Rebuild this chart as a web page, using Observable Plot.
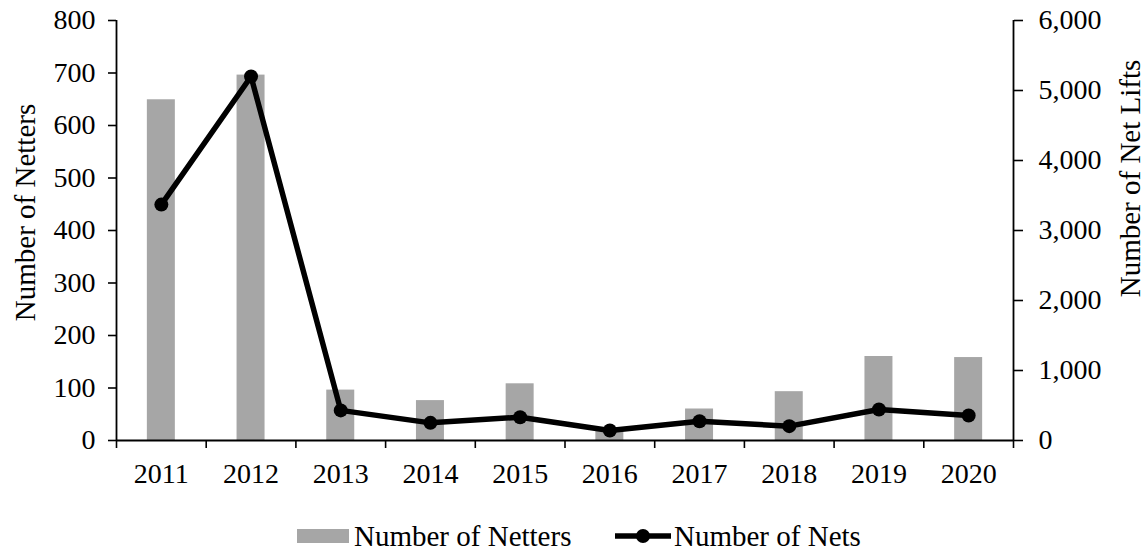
<!DOCTYPE html>
<html><head><meta charset="utf-8">
<script src="https://cdn.jsdelivr.net/npm/d3@7"></script>
<script src="https://cdn.jsdelivr.net/npm/@observablehq/plot@0.6"></script>
<style>
body{margin:0;background:#fff;font-family:"Liberation Serif","Times New Roman",serif;position:relative;width:1146px;height:552px;overflow:hidden;}
#chart{position:absolute;left:0;top:0;}
.leg{position:absolute;font-size:29px;line-height:29px;white-space:nowrap;color:#000;}
</style></head><body>
<div id="chart"></div>
<svg id="legsw" style="position:absolute;left:0;top:500px" width="1146" height="52"></svg>
<div class="leg" style="left:354px;top:522px">Number of Netters</div>
<div class="leg" style="left:674px;top:522px">Number of Nets</div>
<script>
const years = [2011, 2012, 2013, 2014, 2015, 2016, 2017, 2018, 2019, 2020];
const netters = [649, 696, 96, 76, 108, 20, 60, 93, 160, 158];
const nets = [3370, 5200, 430, 252, 333, 143, 276, 205, 443, 357];
const leftTicks = [0, 100, 200, 300, 400, 500, 600, 700, 800];
const rightTicks = [0, 1000, 2000, 3000, 4000, 5000, 6000];
const leftMax = 800, rightMax = 6000;
const k = leftMax / rightMax;

const data = years.map((y, i) => ({year: y, netters: netters[i], nets: nets[i]}));
const half = 0.156;

const plot = Plot.plot({
  width: 1146, height: 500,
  marginLeft: 116, marginRight: 133, marginTop: 20, marginBottom: 60,
  style: {fontFamily: "Liberation Serif, Times New Roman, serif", fontSize: "28px", color: "#000", background: "#fff"},
  x: {type: "linear", domain: [years[0] - 0.5, years[years.length - 1] + 0.5]},
  y: {domain: [0, leftMax]},
  marks: [
    Plot.rectY(data, {x1: d => d.year - half, x2: d => d.year + half, y: "netters", fill: "#a6a6a6"}),
    Plot.axisY(leftTicks, {anchor: "left", tickSize: 8, tickPadding: 13, strokeWidth: 1.6, fontSize: 28, label: null, tickFormat: d => String(d)}),
    Plot.axisY(rightTicks.map(v => v * k), {anchor: "right", tickSize: 9, tickPadding: 16, strokeWidth: 1.6, fontSize: 28, label: null, tickFormat: d => d3.format(",")(Math.round(d / k))}),
    Plot.ruleX([years[0] - 0.5], {y1: 0, y2: leftMax, stroke: "#000", strokeWidth: 1.8}),
    Plot.ruleX([years[years.length - 1] + 0.5], {y1: 0, y2: leftMax, stroke: "#000", strokeWidth: 1.8}),
    Plot.axisX(d3.range(years[0] - 0.5, years[years.length - 1] + 1, 1), {tickSize: 8, strokeWidth: 1.6, tickFormat: () => "", label: null}),
    Plot.axisX(years, {tickSize: 0, tickPadding: 23, fontSize: 28, tickFormat: d => String(d), label: null}),
    Plot.ruleY([0], {stroke: "#000", strokeWidth: 1.8}),
    Plot.line(data, {x: "year", y: d => d.nets * k, stroke: "#000", strokeWidth: 5.5, strokeLinejoin: "round"}),
    Plot.dot(data, {x: "year", y: d => d.nets * k, r: 7, fill: "#000"}),
    Plot.text(["Number of Netters"], {frameAnchor: "left", textAnchor: "middle", rotate: -90, dx: -91, dy: -18, fontSize: 29, fill: "#000"}),
    Plot.text(["Number of Net Lifts"], {frameAnchor: "right", textAnchor: "middle", rotate: -90, dx: 117, dy: -52, fontSize: 29, fill: "#000"})
  ]
});
document.getElementById("chart").appendChild(plot);

const sw = d3.select("#legsw");
sw.append("rect").attr("x", 297).attr("y", 29).attr("width", 52).attr("height", 14).attr("fill", "#a6a6a6");
sw.append("line").attr("x1", 615).attr("x2", 671).attr("y1", 36).attr("y2", 36).attr("stroke", "#000").attr("stroke-width", 5.5);
sw.append("circle").attr("cx", 643).attr("cy", 36).attr("r", 7).attr("fill", "#000");
</script>
</body></html>
